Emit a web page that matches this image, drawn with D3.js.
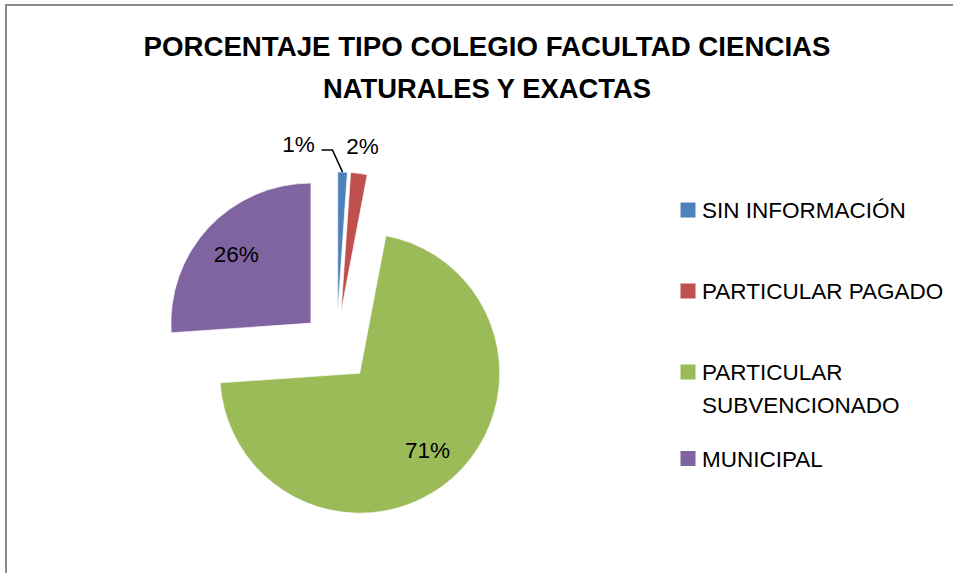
<!DOCTYPE html>
<html>
  <head>
    <meta charset="utf-8">
  </head>
  <script src='https://d3js.org/d3.v7.min.js'></script>
  <style>
    body { margin: 0; background: #fff; }
  </style>
  <body>
    <svg id="chart"></svg>
<script>
      // ---------------------------
      // DATA
      // ---------------------------
      var categories = ["SIN INFORMACIÓN", "PARTICULAR PAGADO", "PARTICULAR SUBVENCIONADO", "MUNICIPAL"];
      var legendLines = [["SIN INFORMACIÓN"], ["PARTICULAR PAGADO"], ["PARTICULAR", "SUBVENCIONADO"], ["MUNICIPAL"]];
      var percentValues = [1.1, 1.9, 70.9, 26.1];
      var percentLabels = ["1%", "2%", "71%", "26%"];
      var titleLines = ["PORCENTAJE TIPO COLEGIO FACULTAD CIENCIAS", "NATURALES Y EXACTAS"];

      // ---------------------------
      // CONSTANTS
      // ---------------------------
      var canvasWidth = 953;
      var canvasHeight = 573;
      var myFont = "'Liberation Sans', Arial, sans-serif";
      var colours = ["#4F81BD", "#C0504D", "#9BBB59", "#8064A2"];
      var pieCentre = [336.5, 347];
      var radius = 140;
      var explodeBy = 35;
      var labelFontSize = 22.5;

      var svg = d3.select("#chart")
        .attr("width", canvasWidth)
        .attr("height", canvasHeight);

      // chart frame (runs off the right and bottom of the picture)
      svg.append("rect")
        .attr("x", 6)
        .attr("y", 5)
        .attr("width", canvasWidth + 20)
        .attr("height", canvasHeight + 20)
        .style("fill", "none")
        .style("stroke", "#8a8a8a")
        .style("stroke-width", 2);

      // title
      var titleWidths = [687, 328];
      var titleBaselines = [55.5, 97.5];
      svg.selectAll(".title")
        .data(titleLines)
        .enter()
        .append("text")
        .attr("class", "title")
        .attr("x", 487)
        .attr("y", function(d, i) { return titleBaselines[i]; })
        .attr("text-anchor", "middle")
        .attr("textLength", function(d, i) { return titleWidths[i]; })
        .attr("lengthAdjust", "spacingAndGlyphs")
        .attr("font-family", myFont)
        .attr("font-weight", "bold")
        .attr("font-size", 27)
        .text(function(d) { return d; });

      // ---------------------------
      // PIE
      // ---------------------------
      var pie = d3.pie().sort(null).startAngle(0).endAngle(2 * Math.PI);
      var arcs = pie(percentValues);
      var arc = d3.arc().innerRadius(0).outerRadius(radius);

      function midAngle(d) { return (d.startAngle + d.endAngle) / 2; }
      function explodeOffset(d) {
        var a = midAngle(d);
        return [explodeBy * Math.sin(a), -explodeBy * Math.cos(a)];
      }

      var slices = svg.append("g")
        .attr("transform", "translate(" + pieCentre[0] + "," + pieCentre[1] + ")")
        .selectAll("g")
        .data(arcs)
        .enter()
        .append("g")
        .attr("transform", function(d) {
          var o = explodeOffset(d);
          return "translate(" + o[0] + "," + o[1] + ")";
        });

      slices.append("path")
        .attr("d", arc)
        .style("fill", function(d, i) { return colours[i]; })
        .style("stroke", "#fff")
        .style("stroke-width", 0.6);

      // labels: inside for big slices, outside for small ones
      var insideArc = d3.arc().innerRadius(radius * 0.73).outerRadius(radius * 0.73);
      var outsideArc = d3.arc().innerRadius(radius * 1.2).outerRadius(radius * 1.2);
      var labelShift = [-45, 0, 0, 0];

      slices.append("text")
        .attr("transform", function(d, i) {
          var p = (d.value < 5 ? outsideArc : insideArc).centroid(d);
          return "translate(" + (p[0] + labelShift[i]) + "," + p[1] + ")";
        })
        .attr("dy", "0.36em")
        .attr("text-anchor", "middle")
        .attr("font-family", myFont)
        .attr("font-size", labelFontSize)
        .attr("fill", "#000")
        .text(function(d, i) { return percentLabels[i]; });

      // leader line for the moved 1% label
      var blue = arcs[0];
      var bOff = explodeOffset(blue);
      var bEdge = d3.arc().innerRadius(radius).outerRadius(radius).centroid(blue);
      var bLabel = outsideArc.centroid(blue);
      var lx = pieCentre[0] + bOff[0] + bLabel[0] + labelShift[0];
      var ly = pieCentre[1] + bOff[1] + bLabel[1];
      svg.append("path")
        .attr("d", d3.line()([
          [lx + 23, ly + 6],
          [lx + 34, ly + 6],
          [pieCentre[0] + bOff[0] + bEdge[0], pieCentre[1] + bOff[1] + bEdge[1]]
        ]))
        .style("fill", "none")
        .style("stroke", "#000")
        .style("stroke-width", 1.5);

      // ---------------------------
      // LEGEND
      // ---------------------------
      var legendBaselines = [218, 299, 380, 466.5];
      var legendLineGap = 33;

      var legend = svg.append("g")
        .selectAll("g")
        .data(categories)
        .enter()
        .append("g");

      legend.append("rect")
        .attr("x", 680.5)
        .attr("y", function(d, i) { return legendBaselines[i] - 15.5; })
        .attr("width", 15)
        .attr("height", 15)
        .style("fill", function(d, i) { return colours[i]; });

      legend.append("text")
        .attr("x", 702)
        .attr("y", function(d, i) { return legendBaselines[i]; })
        .attr("font-family", myFont)
        .attr("font-size", labelFontSize)
        .attr("fill", "#000")
        .selectAll("tspan")
        .data(function(d, i) { return legendLines[i]; })
        .enter()
        .append("tspan")
        .attr("x", 702)
        .attr("dy", function(d, j) { return j === 0 ? 0 : legendLineGap; })
        .text(function(d) { return d; });
    </script>
  </body>
</html>
